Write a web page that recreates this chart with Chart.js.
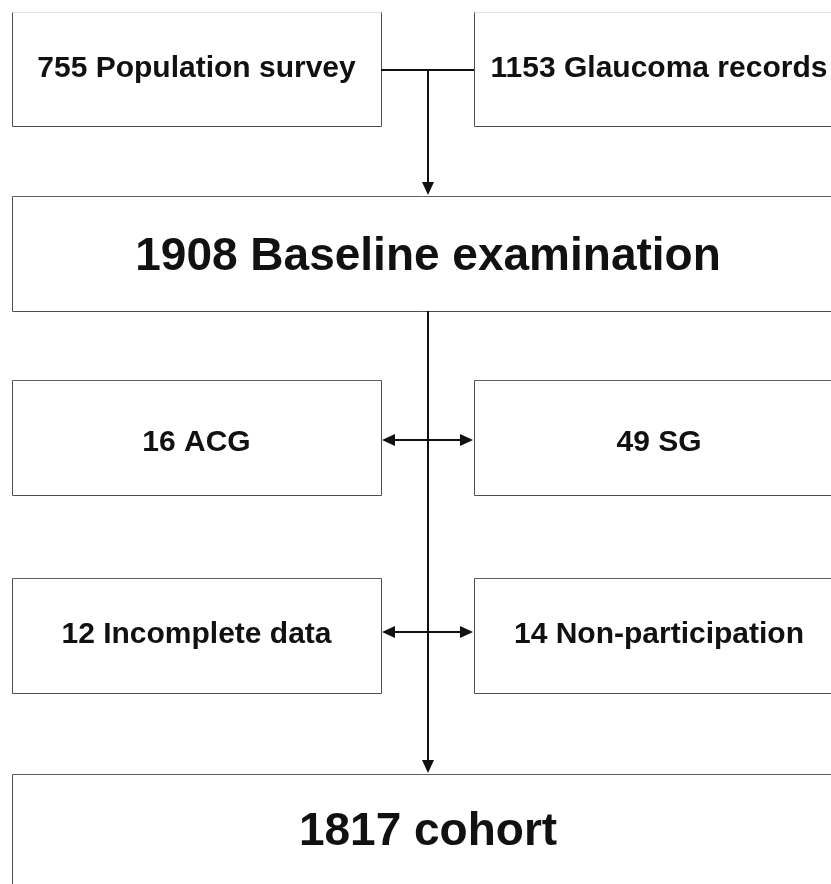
<!DOCTYPE html>
<html>
<head>
<meta charset="utf-8">
<script src="https://cdn.jsdelivr.net/npm/chart.js@4/dist/chart.umd.min.js"></script>
<style>
  html, body { margin: 0; padding: 0; background: #fff; }
  #wrap { width: 831px; height: 884px; }
</style>
</head>
<body>
<div id="wrap"><canvas id="flow" width="831" height="884"></canvas></div>
<script>
// counts and labels of the flowchart steps
const counts = [755, 1153, 1908, 16, 49, 12, 14, 1817];
const labels = ['Population survey', 'Glaucoma records', 'Baseline examination', 'ACG', 'SG',
                'Incomplete data', 'Non-participation', 'cohort'];

// layout in chart units (x: 0..831, y: 0..884 downwards)
const boxX = [12, 474, 12, 12, 474, 12, 474, 12];
const boxY = [12, 12, 196, 380, 380, 578, 578, 774];
const boxW = [369, 370, 832, 369, 370, 369, 370, 832];
const boxH = [114, 114, 115, 115, 115, 115, 115, 130];
const textY = [66, 66, 254, 440, 440, 632, 632, 829];   // middle of the capitals
const bigText = [false, false, true, false, false, false, false, true];

function arrowHead(ctx, x, y, dir) {
  // dir: 'down', 'left', 'right'
  ctx.beginPath();
  if (dir === 'down') {
    ctx.moveTo(x, y); ctx.lineTo(x - 6, y - 13); ctx.lineTo(x + 6, y - 13);
  } else if (dir === 'left') {
    ctx.moveTo(x, y); ctx.lineTo(x + 13, y - 6); ctx.lineTo(x + 13, y + 6);
  } else {
    ctx.moveTo(x, y); ctx.lineTo(x - 13, y - 6); ctx.lineTo(x - 13, y + 6);
  }
  ctx.closePath();
  ctx.fill();
}

const flowPlugin = {
  id: 'flow',
  afterDatasetsDraw(chart) {
    const ctx = chart.ctx;
    const sx = chart.scales.x, sy = chart.scales.y;
    const px = v => sx.getPixelForValue(v);
    const py = v => sy.getPixelForValue(v);
    ctx.save();

    // boxes
    for (let i = 0; i < counts.length; i++) {
      const x0 = Math.round(px(boxX[i])) + 0.5, y0 = Math.round(py(boxY[i])) + 0.5;
      const x1 = Math.round(px(boxX[i] + boxW[i])) + 0.5, y1 = Math.round(py(boxY[i] + boxH[i])) + 0.5;
      ctx.lineWidth = 1;
      ctx.strokeStyle = i < 2 ? '#e2e2e2' : '#5e5e5e';
      ctx.beginPath(); ctx.moveTo(x0, y0); ctx.lineTo(x1, y0); ctx.stroke();
      ctx.strokeStyle = '#4e4e4e';
      ctx.beginPath();
      ctx.moveTo(x0, y0); ctx.lineTo(x0, y1); ctx.lineTo(x1, y1); ctx.lineTo(x1, y0);
      ctx.stroke();

      const size = bigText[i] ? 46 : 30;
      ctx.fillStyle = '#111';
      ctx.font = 'bold ' + size + 'px "Liberation Sans", Arial, sans-serif';
      ctx.textAlign = 'center';
      ctx.textBaseline = 'alphabetic';
      ctx.fillText(counts[i] + ' ' + labels[i], px(boxX[i] + boxW[i] / 2), py(textY[i]) + size * 0.358);
    }

    // connectors
    ctx.strokeStyle = '#111';
    ctx.fillStyle = '#111';
    ctx.lineWidth = 2;
    const cx = px(428);
    ctx.beginPath();
    ctx.moveTo(px(381), py(70)); ctx.lineTo(px(474), py(70));
    ctx.moveTo(cx, py(70)); ctx.lineTo(cx, py(184));
    ctx.moveTo(cx, py(311)); ctx.lineTo(cx, py(762));
    ctx.stroke();
    arrowHead(ctx, cx, py(195), 'down');
    arrowHead(ctx, cx, py(773), 'down');

    [440, 632].forEach(y => {
      ctx.beginPath();
      ctx.moveTo(px(393), py(y)); ctx.lineTo(px(462), py(y));
      ctx.stroke();
      arrowHead(ctx, px(382), py(y), 'left');
      arrowHead(ctx, px(473), py(y), 'right');
    });
    ctx.restore();
  }
};

const ctx = document.getElementById('flow').getContext('2d');
new Chart(ctx, {
  type: 'scatter',
  data: {
    datasets: [{
      label: 'steps',
      data: counts.map((c, i) => ({ x: boxX[i] + boxW[i] / 2, y: textY[i] })),
      pointRadius: 0
    }]
  },
  options: {
    responsive: false,
    animation: false,
    layout: { padding: 0 },
    plugins: { legend: { display: false }, tooltip: { enabled: false } },
    scales: {
      x: { type: 'linear', min: 0, max: 831, display: false },
      y: { type: 'linear', min: 0, max: 884, reverse: true, display: false }
    }
  },
  plugins: [flowPlugin]
});
</script>
</body>
</html>
